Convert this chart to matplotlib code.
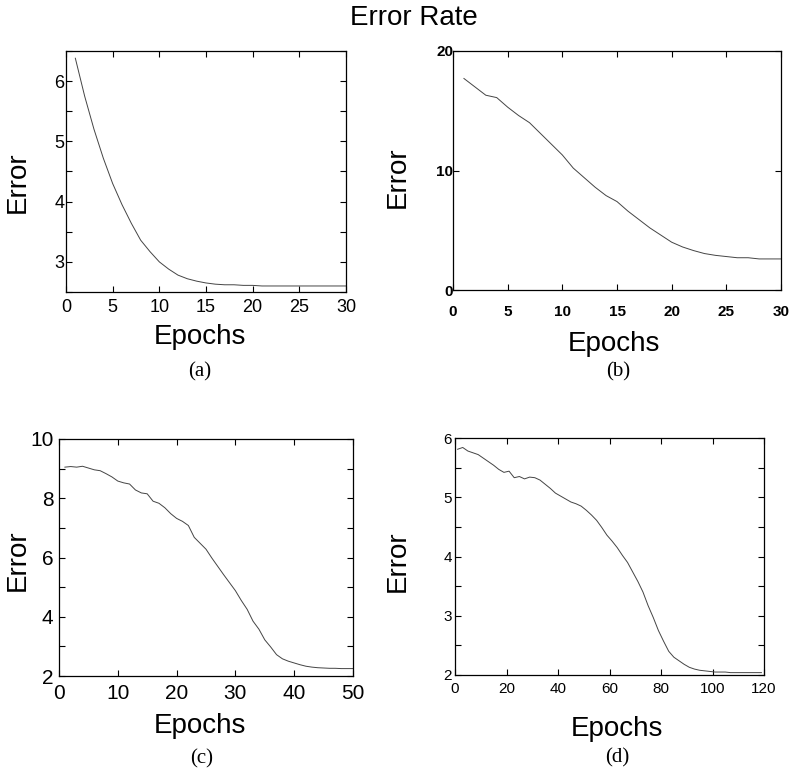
# error rate vs epochs, four training runs
import numpy as np
import matplotlib
matplotlib.use("Agg")
import matplotlib.pyplot as plt
from matplotlib.ticker import MultipleLocator

# (a)
epochs_a = list(range(1, 31))
error_a = [6.38, 5.75, 5.2, 4.72, 4.3, 3.95, 3.64, 3.36, 3.17, 3.0,
           2.88, 2.78, 2.72, 2.68, 2.65, 2.63, 2.62, 2.62, 2.61, 2.61,
           2.6, 2.6, 2.6, 2.6, 2.6, 2.6, 2.6, 2.6, 2.6, 2.6]

# (b)
epochs_b = list(range(1, 31))
error_b = [17.7, 17.0, 16.3, 16.1, 15.3, 14.6, 14.0, 13.1, 12.2, 11.3,
           10.2, 9.4, 8.6, 7.9, 7.4, 6.6, 5.9, 5.2, 4.6, 4.0,
           3.6, 3.3, 3.05, 2.9, 2.8, 2.7, 2.7, 2.6, 2.6, 2.6]

# (c)
epochs_c = list(range(1, 51))
error_c = [9.05, 9.07, 9.05, 9.08, 9.02, 8.96, 8.93, 8.83, 8.72, 8.58,
           8.52, 8.48, 8.28, 8.18, 8.15, 7.9, 7.83, 7.68, 7.48, 7.32,
           7.22, 7.08, 6.68, 6.48, 6.28, 5.98, 5.7, 5.42, 5.15, 4.88,
           4.55, 4.25, 3.85, 3.58, 3.22, 2.98, 2.72, 2.58, 2.5, 2.44,
           2.38, 2.33, 2.3, 2.28, 2.27, 2.26, 2.26, 2.25, 2.25, 2.25]

# (d)
epochs_d = list(range(1, 121, 2))
error_d = [5.81, 5.84, 5.78, 5.75, 5.72, 5.66, 5.6, 5.54, 5.47, 5.42,
           5.44, 5.33, 5.35, 5.31, 5.34, 5.33, 5.29, 5.22, 5.15, 5.07,
           5.02, 4.97, 4.92, 4.89, 4.85, 4.78, 4.7, 4.61, 4.49, 4.36,
           4.26, 4.15, 4.02, 3.9, 3.74, 3.58, 3.4, 3.17, 2.97, 2.75,
           2.57, 2.4, 2.3, 2.24, 2.18, 2.13, 2.1, 2.08, 2.07, 2.06,
           2.05, 2.05, 2.05, 2.04, 2.04, 2.04, 2.04, 2.04, 2.04, 2.04]

W, H = 792, 773
SANS = "Liberation Sans"
SERIF = "Liberation Serif"

def box(l, t, r, b):
    # pixel box -> figure fraction
    return [l / W, 1 - b / H, (r - l) / W, (b - t) / H]

def ftext(x, y, s, **kw):
    fig.text(x / W, 1 - y / H, s, ha="center", va="center", **kw)

def style(ax, xlim, ylim, xstep, ymajor, yminor, tsize, xpad, ypad, weight="normal"):
    ax.set_xlim(*xlim)
    ax.set_ylim(*ylim)
    ax.xaxis.set_major_locator(MultipleLocator(xstep))
    ax.yaxis.set_major_locator(MultipleLocator(ymajor))
    if yminor:
        ax.yaxis.set_minor_locator(MultipleLocator(yminor))
    ax.tick_params(which="both", direction="in", top=True, right=True,
                   length=4, width=0.8, labelsize=tsize)
    ax.tick_params(axis="x", pad=xpad)
    ax.tick_params(axis="y", pad=ypad)
    for lab in ax.get_xticklabels() + ax.get_yticklabels():
        lab.set_fontfamily(SANS)
        lab.set_fontweight(weight)
    for sp in ax.spines.values():
        sp.set_linewidth(0.9)

fig = plt.figure(figsize=(W / 100, H / 100), dpi=100)
line_kw = dict(color="#444444", lw=0.7)

ax_a = fig.add_axes(box(66, 51, 346, 292))
ax_a.plot(epochs_a, error_a, **line_kw)
style(ax_a, (0, 30), (2.5, 6.5), 5, 1, 0.5, 13, 5, 1)

ax_b = fig.add_axes(box(453, 51, 781, 290))
ax_b.plot(epochs_b, error_b, **line_kw)
style(ax_b, (0, 30), (0, 20), 5, 10, None, 11, 11, 0, weight="bold")

ax_c = fig.add_axes(box(59, 439, 353, 676))
ax_c.plot(epochs_c, error_c, **line_kw)
style(ax_c, (0, 50), (2, 10), 10, 2, 1, 15, 6, 4)

ax_d = fig.add_axes(box(455, 438, 764, 675))
ax_d.plot(epochs_d, error_d, **line_kw)
style(ax_d, (0, 120), (2, 6), 20, 1, 0.5, 11, 5, 2)

ftext(414, 18, "Error Rate", family=SANS, fontsize=20)

lab_kw = dict(family=SANS, fontsize=20)
ftext(200, 337, "Epochs", **lab_kw)
ftext(614, 344, "Epochs", **lab_kw)
ftext(200, 726, "Epochs", **lab_kw)
ftext(617, 729, "Epochs", **lab_kw)

ftext(18, 182, "Error", rotation=90, **lab_kw)
ftext(398, 177, "Error", rotation=90, **lab_kw)
ftext(18, 560, "Error", rotation=90, **lab_kw)
ftext(398, 561, "Error", rotation=90, **lab_kw)

sub_kw = dict(family=SERIF, fontsize=15)
ftext(200, 372, "(a)", **sub_kw)
ftext(618, 372, "(b)", **sub_kw)
ftext(202, 759, "(c)", **sub_kw)
ftext(617, 758, "(d)", **sub_kw)

fig.savefig("out.png", dpi=100)
